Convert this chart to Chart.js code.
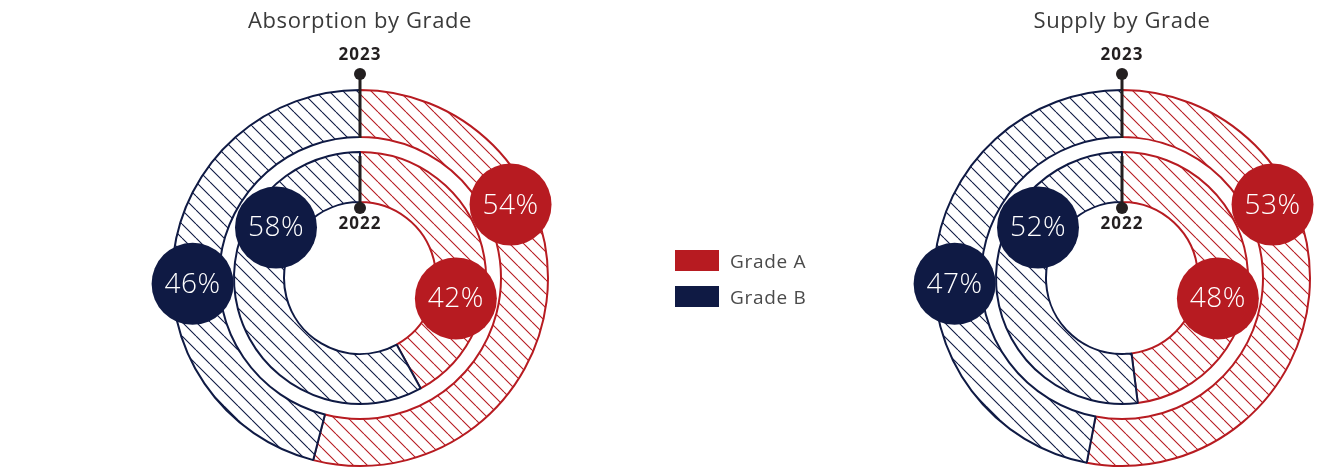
<!DOCTYPE html>
<html>
<head>
<meta charset="utf-8">
<script src="https://cdn.jsdelivr.net/npm/chart.js@4.4.1/dist/chart.umd.min.js"></script>
<style>
  html, body { margin: 0; padding: 0; background: #fff; }
  body { width: 1326px; height: 468px; position: relative; overflow: hidden; font-family: "Open Sans", sans-serif; }
  canvas { position: absolute; top: 0; }
  #absorption { left: 0; }
  #supply { left: 720px; }
  .legend { position: absolute; left: 675px; top: 250px; z-index: 2; }
  .legend-row { display: flex; align-items: center; height: 21px; margin-bottom: 15px; }
  .legend-box { width: 44px; height: 21px; margin-right: 11px; }
  .legend-row span { font-size: 19px; letter-spacing: 0.7px; color: #4a4a4a; }
</style>
</head>
<body>
<canvas id="absorption" width="720" height="468"></canvas>
<canvas id="supply" width="606" height="468"></canvas>
<div class="legend" id="legend"></div>

<script>
// dados
const grades = ['Grade A', 'Grade B'];
const years = ['2023', '2022'];
const absorption2023 = [54, 46];
const absorption2022 = [42, 58];
const supply2023 = [53, 47];
const supply2022 = [48, 52];

const red = '#b71b21';
const navy = '#0f1a44';
const colors = [red, navy];

// hachura diagonal
function hatch(color) {
  const s = 14;
  const c = document.createElement('canvas');
  c.width = s;
  c.height = s;
  const g = c.getContext('2d');
  g.fillStyle = '#fff';
  g.fillRect(0, 0, s, s);
  g.strokeStyle = color;
  g.lineWidth = 1.1;
  g.beginPath();
  for (const k of [-s, 0, s]) {
    g.moveTo(k, 0);
    g.lineTo(k + s, s);
  }
  g.stroke();
  return g.createPattern(c, 'repeat');
}

const patterns = colors.map(hatch);

// angulo (graus, a partir do topo) das bolhas de cada anel
const bubbleAngles = { 0: [64, 268], 2: [102, 301] };
const bubbleShift = { 0: 3, 2: -3 };

const ringDecor = {
  id: 'ringDecor',
  afterDatasetsDraw(chart, args, opts) {
    const ctx = chart.ctx;
    const outer = chart.getDatasetMeta(0);
    const inner = chart.getDatasetMeta(2);
    const cx = outer.data[0].x;
    const cy = outer.data[0].y;
    const outerTop = outer.controller.outerRadius;
    const outerIn = outer.controller.innerRadius;
    const innerTop = inner.controller.outerRadius;

    ctx.save();

    // titulo
    ctx.fillStyle = '#3a3a3a';
    ctx.font = '22px "Open Sans"';
    ctx.letterSpacing = '0.6px';
    ctx.textAlign = 'center';
    ctx.textBaseline = 'alphabetic';
    ctx.fillText(opts.title, cx, 28);

    // marcador vertical 2023 / 2022
    ctx.strokeStyle = '#231f20';
    ctx.fillStyle = '#231f20';
    ctx.lineWidth = 3;
    ctx.beginPath();
    ctx.moveTo(cx, cy - outerTop - 16);
    ctx.lineTo(cx, cy - outerIn + 1);
    ctx.moveTo(cx, cy - innerTop + 4);
    ctx.lineTo(cx, cy - 70);
    ctx.stroke();
    for (const y of [cy - outerTop - 16, cy - 70]) {
      ctx.beginPath();
      ctx.arc(cx, y, 6, 0, Math.PI * 2);
      ctx.fill();
    }
    ctx.font = 'bold 17px "Open Sans"';
    ctx.letterSpacing = '1px';
    ctx.textBaseline = 'middle';
    ctx.fillText(years[0], cx, cy - outerTop - 35);
    ctx.fillText(years[1], cx, cy - 54);

    // bolhas com os valores
    ctx.font = '300 28px "Open Sans"';
    ctx.letterSpacing = '0.5px';
    for (const idx of [0, 2]) {
      const meta = chart.getDatasetMeta(idx);
      const ctl = meta.controller;
      const r = (ctl.outerRadius + ctl.innerRadius) / 2 + bubbleShift[idx];
      const values = chart.data.datasets[idx].data;
      values.forEach((v, i) => {
        const a = bubbleAngles[idx][i] * Math.PI / 180;
        const bx = cx + r * Math.sin(a);
        const by = cy - r * Math.cos(a);
        ctx.fillStyle = colors[i];
        ctx.beginPath();
        ctx.arc(bx, by, 41, 0, Math.PI * 2);
        ctx.fill();
        ctx.fillStyle = '#fff';
        ctx.fillText(v + '%', bx, by + 1);
      });
    }
    ctx.restore();
  }
};

function ring(label, data, weight) {
  return {
    label: label,
    data: data,
    weight: weight,
    backgroundColor: patterns,
    borderColor: colors,
    borderWidth: 2
  };
}

function makeChart(id, title, data2023, data2022, padLeft) {
  const ctx = document.getElementById(id).getContext('2d');
  return new Chart(ctx, {
    type: 'doughnut',
    data: {
      labels: grades,
      datasets: [
        ring(years[0], data2023, 47),
        { label: 'gap', data: [1], weight: 15, backgroundColor: 'rgba(0,0,0,0)', borderWidth: 0 },
        ring(years[1], data2022, 50)
      ]
    },
    options: {
      responsive: false,
      animation: false,
      events: [],
      radius: 188,
      cutout: '40.43%',
      layout: { padding: { top: 88, left: padLeft, right: 0, bottom: 0 } },
      plugins: {
        legend: { display: false },
        tooltip: { enabled: false },
        ringDecor: { title: title }
      }
    },
    plugins: [ringDecor]
  });
}

// legenda
const legend = document.getElementById('legend');
grades.forEach((g, i) => {
  const row = document.createElement('div');
  row.className = 'legend-row';
  row.innerHTML = `<div class="legend-box" style="background:${colors[i]}"></div><span>${g}</span>`;
  legend.appendChild(row);
});

makeChart('absorption', 'Absorption by Grade', absorption2023, absorption2022, 0);
makeChart('supply', 'Supply by Grade', supply2023, supply2022, 198);
</script>
</body>
</html>
